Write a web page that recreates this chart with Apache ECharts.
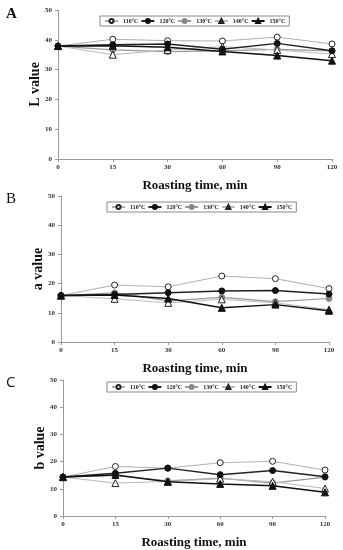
<!DOCTYPE html>
<html><head><meta charset="utf-8">
<script src="https://cdn.jsdelivr.net/npm/echarts@6/dist/echarts.min.js"></script>
<style>html,body{margin:0;padding:0;background:#fff}#c{width:343px;height:550px}</style>
</head><body><div id="c"></div>
<script>
var times = ['0','15','30','60','90','120'];
var seriesNames = ['110°C','120°C','130°C','140°C','150°C'];
// Panel A: L value
var L110 = [37.9, 40.2, 39.7, 39.6, 40.9, 38.6];
var L120 = [37.9, 38.3, 38.6, 36.8, 38.8, 36.3];
var L130 = [37.9, 36.6, 36.0, 36.3, 36.8, 36.3];
var L140 = [37.9, 35.0, 36.6, 37.7, 36.6, 35.2];
var L150 = [37.9, 38.0, 37.5, 36.1, 34.7, 33.0];
// Panel B: a value
var a110 = [15.9, 19.5, 18.9, 22.6, 21.7, 18.3];
var a120 = [15.9, 16.3, 16.9, 17.5, 17.6, 16.4];
var a130 = [15.9, 16.8, 14.1, 15.3, 13.8, 14.9];
var a140 = [15.9, 14.8, 13.4, 14.6, 13.4, 11.1];
var a150 = [15.9, 16.1, 14.9, 11.7, 12.8, 10.7];
// Panel C: b value
var b110 = [14.3, 18.2, 17.6, 19.6, 20.1, 16.9];
var b120 = [14.3, 15.7, 17.6, 15.2, 16.7, 14.4];
var b130 = [14.3, 14.9, 12.9, 13.9, 12.1, 14.3];
var b140 = [14.3, 12.1, 12.7, 13.7, 12.6, 10.1];
var b150 = [14.3, 15.1, 12.6, 11.8, 11.1, 8.7];
var yTicks = [0, 10, 20, 30, 40, 50];

var styles = [
  {line:'#b0b0b0', symbol:'circle', fill:'#fff', border:'#222', lw:1},
  {line:'#222', symbol:'circle', fill:'#111', border:'#111', lw:1.5},
  {line:'#999', symbol:'circle', fill:'#8a8a8a', border:'#8a8a8a', lw:1.2},
  {line:'#bbb', symbol:'triangle', fill:'#fff', border:'#222', lw:1},
  {line:'#111', symbol:'triangle', fill:'#111', border:'#111', lw:1.5}
];
var panels = [
  {data:[L110,L120,L130,L140,L150], name:'L value', grid:{left:58, right:11, top:10, height:149}, legend:{left:100, top:16}},
  {data:[a110,a120,a130,a140,a150], name:'a value', grid:{left:61, right:14, top:196, height:146}, legend:{left:107, top:202}},
  {data:[b110,b120,b130,b140,b150], name:'b value', grid:{left:63, right:18, top:380, height:140}, legend:{left:107, top:382}}
];
var serif = '"Liberation Serif","Times New Roman",serif';
var grids=[], xAxes=[], yAxes=[], series=[], legends=[];
panels.forEach(function(p, gi){
  grids.push(p.grid);
  xAxes.push({type:'category', gridIndex:gi, data:times, boundaryGap:false,
    name:'Roasting time, min', nameLocation:'middle', nameGap:20,
    nameTextStyle:{fontFamily:serif, fontWeight:'bold', fontSize:13, color:'#111'},
    axisLine:{lineStyle:{color:'#999'}}, axisTick:{show:true, alignWithLabel:true, length:3, lineStyle:{color:'#999'}},
    axisLabel:{fontFamily:serif, fontWeight:'bold', fontSize:7, color:'#333', margin:5}});
  yAxes.push({type:'value', gridIndex:gi, min:yTicks[0], max:yTicks[yTicks.length-1], interval:10,
    name:p.name, nameLocation:'middle', nameGap:16, nameRotate:90, nameMoveOverlap:false,
    nameTextStyle:{fontFamily:serif, fontWeight:'bold', fontSize:14, color:'#111'},
    axisLine:{show:true, lineStyle:{color:'#999'}}, axisTick:{show:true, length:3, lineStyle:{color:'#999'}},
    splitLine:{show:false},
    axisLabel:{fontFamily:serif, fontWeight:'bold', fontSize:7, color:'#333', margin:6}});
  p.data.forEach(function(d, si){
    var s = styles[si];
    series.push({type:'line', name:seriesNames[si], xAxisIndex:gi, yAxisIndex:gi, data:d,
      symbol:s.symbol, symbolSize:s.symbol==='triangle'?7:6, z:si===4?5:(si===1?4:3),
      lineStyle:{color:s.line, width:s.lw},
      itemStyle:{color:s.fill, borderColor:s.border, borderWidth:1}});
  });
  legends.push({left:p.legend.left, top:p.legend.top, width:300, data:seriesNames,
    orient:'horizontal', itemWidth:13, itemHeight:5, itemGap:2, padding:[2,4],
    borderColor:'#888', borderWidth:1, selectedMode:false,
    textStyle:{fontFamily:serif, fontWeight:'bold', fontSize:6, color:'#222'}});
});
var chart = echarts.init(document.getElementById('c'), null, {renderer:'canvas'});
chart.setOption({
  animation:false, backgroundColor:'#fff',
  grid:grids, xAxis:xAxes, yAxis:yAxes, series:series, legend:legends,
  graphic:[
    {type:'text', left:6, top:7, style:{text:'A', font:'bold 15px '+serif, fill:'#111'}},
    {type:'text', left:6, top:192, style:{text:'B', font:'15px '+serif, fill:'#111'}},
    {type:'text', left:6, top:375, style:{text:'C', font:'15px "Open Sans",sans-serif', fill:'#111'}}
  ]
});
</script></body></html>
